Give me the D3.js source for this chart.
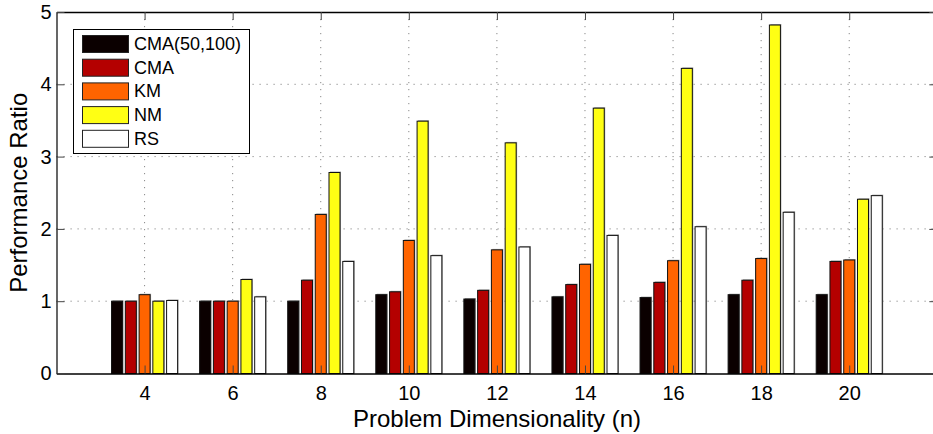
<!DOCTYPE html>
<html>
<head>
<meta charset="utf-8">
<script src="https://cdn.jsdelivr.net/npm/d3@7"></script>
<style>
  body { margin: 0; background: #fff; }
  text { font-family: "Liberation Sans", Arial, sans-serif; }
</style>
</head>
<body>
<div id="chart"></div>
<script>
// dimensions (problem size n)
var dims = [4, 6, 8, 10, 12, 14, 16, 18, 20];
var series = ['CMA(50,100)', 'CMA', 'KM', 'NM', 'RS'];
var colors = ['#0b0000', '#b40000', '#ff6400', '#ffff14', '#ffffff'];

// performance ratio per series, one value per dimension
var cma50 = [1.00, 1.00, 1.00, 1.09, 1.03, 1.06, 1.05, 1.09, 1.09];
var cma   = [1.00, 1.00, 1.29, 1.13, 1.15, 1.23, 1.26, 1.29, 1.55];
var km    = [1.09, 1.00, 2.20, 1.84, 1.71, 1.51, 1.56, 1.59, 1.57];
var nm    = [1.00, 1.30, 2.78, 3.49, 3.19, 3.67, 4.22, 4.82, 2.41];
var rs    = [1.01, 1.06, 1.55, 1.63, 1.75, 1.91, 2.03, 2.23, 2.46];
var yTicks = [0, 1, 2, 3, 4, 5];

var values = [cma50, cma, km, nm, rs];

const width = 933;
const height = 434;
const pLeft = 56.5, pRight = 937.3, pTop = 12, pBottom = 373.5;

const svg = d3.select('#chart')
    .append('svg')
    .attr('width', width)
    .attr('height', height);

var x = d3.scaleLinear()
    .domain([2, 22])
    .range([pLeft, pRight]);

var y = d3.scaleLinear()
    .domain([0, 5])
    .range([pBottom, pTop]);

// bars inside a group
var groupW = x(3.5) - x(2);
var xSub = d3.scaleBand()
    .domain(series)
    .range([-groupW / 2, groupW / 2])
    .paddingInner(0.2);

// grid (dotted)
var grid = svg.append('g');
grid.selectAll('.gx')
    .data(dims)
    .enter()
    .append('line')
    .attr('x1', d => x(d)).attr('x2', d => x(d))
    .attr('y1', pTop).attr('y2', pBottom)
    .attr('stroke', '#888')
    .attr('stroke-dasharray', '1.2,5.8');
grid.selectAll('.gy')
    .data(yTicks.slice(1, -1))
    .enter()
    .append('line')
    .attr('x1', pLeft).attr('x2', pRight)
    .attr('y1', d => y(d)).attr('y2', d => y(d))
    .attr('stroke', '#888')
    .attr('stroke-dasharray', '1.2,5.8');

// flatten for drawing
var rows = [];
dims.forEach(function (d, i) {
    series.forEach(function (s, j) {
        rows.push({dim: d, s: s, j: j, v: values[j][i]});
    });
});

var bars = svg.append('g');
// gray shadow
bars.selectAll('.shadow')
    .data(rows)
    .enter()
    .append('rect')
    .attr('x', d => x(d.dim) + xSub(d.s) + 1)
    .attr('y', d => y(d.v) - 1)
    .attr('width', xSub.bandwidth())
    .attr('height', d => pBottom - y(d.v) + 1)
    .attr('fill', '#aaa');
bars.selectAll('.bar')
    .data(rows)
    .enter()
    .append('rect')
    .attr('x', d => x(d.dim) + xSub(d.s))
    .attr('y', d => y(d.v))
    .attr('width', xSub.bandwidth())
    .attr('height', d => pBottom - y(d.v))
    .attr('fill', d => colors[d.j])
    .attr('stroke', '#111')
    .attr('stroke-width', 1);

// axes
svg.append('g')
    .attr('transform', 'translate(0,' + pBottom + ')')
    .call(d3.axisBottom(x).tickValues(dims).tickSizeInner(-8).tickSizeOuter(0).tickPadding(12))
    .call(g => g.selectAll('text').attr('font-size', 20).attr('fill', '#000'))
    .call(g => g.select('.domain').attr('stroke', '#000').attr('stroke-width', 1.5))
    .call(g => g.selectAll('.tick line').attr('stroke', '#444'));

svg.append('g')
    .attr('transform', 'translate(0,' + pTop + ')')
    .call(d3.axisTop(x).tickValues(dims).tickSizeInner(-8).tickSizeOuter(0).tickFormat(''))
    .call(g => g.select('.domain').attr('stroke', '#000').attr('stroke-width', 1.5))
    .call(g => g.selectAll('.tick line').attr('stroke', '#444'));

svg.append('g')
    .attr('transform', 'translate(' + pLeft + ',0)')
    .call(d3.axisLeft(y).tickValues(yTicks).tickFormat(d3.format('d')).tickSizeInner(-8).tickSizeOuter(0).tickPadding(5))
    .call(g => g.selectAll('text').attr('font-size', 20).attr('fill', '#000'))
    .call(g => g.select('.domain').attr('stroke', '#000').attr('stroke-width', 1.2))
    .call(g => g.selectAll('.tick line').attr('stroke', '#444'));

svg.append('g')
    .attr('transform', 'translate(' + pRight + ',0)')
    .call(d3.axisRight(y).tickValues(yTicks).tickSizeInner(-8).tickSizeOuter(0).tickFormat(''))
    .call(g => g.select('.domain').attr('stroke', '#000'))
    .call(g => g.selectAll('.tick line').attr('stroke', '#444'));

// axis titles
svg.append('text')
    .attr('x', 497)
    .attr('y', 427)
    .attr('text-anchor', 'middle')
    .attr('font-size', 24)
    .text('Problem Dimensionality (n)');

svg.append('text')
    .attr('transform', 'translate(27,' + (pTop + pBottom) / 2 + ') rotate(-90)')
    .attr('text-anchor', 'middle')
    .attr('font-size', 24)
    .text('Performance Ratio');

// legend
var legend = svg.append('g');
legend.append('rect')
    .attr('x', 73.5).attr('y', 29.5)
    .attr('width', 176).attr('height', 124)
    .attr('fill', '#fff')
    .attr('stroke', '#000');
var item = legend.selectAll('.item')
    .data(series)
    .enter()
    .append('g')
    .attr('transform', (d, i) => 'translate(82,' + (35 + i * 23.7) + ')');
item.append('rect')
    .attr('x', 0.5).attr('y', 0.5)
    .attr('width', 46).attr('height', 17)
    .attr('fill', (d, i) => colors[i])
    .attr('stroke', '#222');
item.append('text')
    .attr('x', 52)
    .attr('y', 15)
    .attr('font-size', 18)
    .text(d => d);
</script>
</body>
</html>
